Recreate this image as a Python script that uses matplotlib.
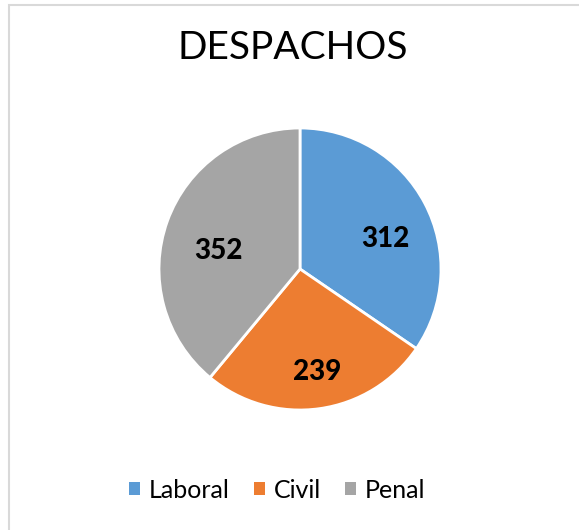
import matplotlib.pyplot as plt
from matplotlib.patches import Rectangle

plt.rcParams['font.family'] = ['Lato', 'DejaVu Sans']

# Data
categories = ['Laboral', 'Civil', 'Penal']
values = [312, 239, 352]
colors = ['#5B9BD5', '#ED7D31', '#A5A5A5']

fig = plt.figure(figsize=(5.79, 5.30), dpi=100)

# chart frame (only top/left edges are visible in the crop)
fig.patches.append(Rectangle((9 / 579, -0.1), 1.2, 1 - 5 / 530 + 0.1,
                             transform=fig.transFigure, fill=False,
                             edgecolor='#D9D9D9', linewidth=1.5))

ax = fig.add_axes([300 / 579 - 141 / 579, 1 - 269 / 530 - 141 / 530,
                   282 / 579, 282 / 530])
wedges, texts, autotexts = ax.pie(values, colors=colors, startangle=90,
                                  counterclock=False, autopct='%.0f',
                                  pctdistance=0.65,
                                  wedgeprops=dict(edgecolor='white', linewidth=2))
for t, v in zip(autotexts, values):
    t.set_text(str(v))
    t.set_fontsize(20)
    t.set_fontweight('black')
    t.set_color('black')
    x, y = t.get_position()
    t.set_position((x + 0.03, y - 0.09))
ax.set_xlim(-1, 1)
ax.set_ylim(-1, 1)
ax.set_aspect('equal')

fig.text(293 / 579, 1 - 48 / 530, 'DESPACHOS', ha='center', va='center',
         fontsize=28)

leg = fig.legend(wedges, categories, loc='center',
                 bbox_to_anchor=(277 / 579, 1 - 490 / 530),
                 ncol=3, frameon=False, fontsize=18, handlelength=0.45,
                 handleheight=0.45, handletextpad=0.35, columnspacing=0.95)
for h in leg.legend_handles:
    h.set_edgecolor('none')

plt.savefig('out.png', dpi=100)
